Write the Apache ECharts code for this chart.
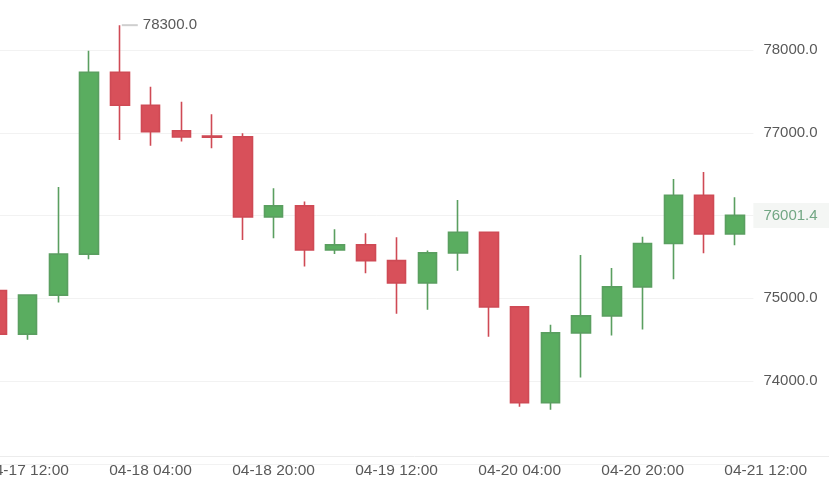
<!DOCTYPE html>
<html>
<head>
<meta charset="utf-8">
<script src="https://cdn.jsdelivr.net/npm/echarts@6/dist/echarts.min.js"></script>
<style>
html,body{margin:0;padding:0;background:#ffffff;}
#chart{width:829px;height:481px;}
</style>
</head>
<body>
<div id="chart"></div>
<script>
// 4-hour candles
const times = [
  '04-17 08:00','04-17 12:00','04-17 16:00','04-17 20:00',
  '04-18 00:00','04-18 04:00','04-18 08:00','04-18 12:00','04-18 16:00','04-18 20:00',
  '04-19 00:00','04-19 04:00','04-19 08:00','04-19 12:00','04-19 16:00','04-19 20:00',
  '04-20 00:00','04-20 04:00','04-20 08:00','04-20 12:00','04-20 16:00','04-20 20:00',
  '04-21 00:00','04-21 04:00','04-21 08:00'
];
const axisTimes = times.concat(['04-21 12:00','04-21 16:00','04-21 20:00']);
const openVals  = [75093,74566,75038,75533,77731,77332,77025,76960,76950,75983,76116,75585,75645,75455,75186,75548,75798,74896,73737,74582,74787,75138,75661,76245,75778];
const closeVals = [74566,75038,75533,77731,77332,77013,76949,76945,75983,76116,75585,75645,75455,75186,75548,75798,74896,73737,74582,74787,75138,75661,76245,75778,76001.4];
const lowVals   = [74480,74498,74948,75472,76913,76844,76893,76813,75705,75726,75383,75536,75303,74812,74860,75331,74534,73688,73652,74042,74550,74622,75231,75545,75641];
const highVals  = [75250,75045,76345,77992,78300,77557,77376,77223,76994,76330,76168,75835,75786,75738,75576,76188,75802,74900,74679,75524,75367,75742,76442,76527,76221];
const yMin = 73000, yMax = 79000, yStep = 1000;

const candleData = times.map((t, i) => [i, openVals[i], closeVals[i], lowVals[i], highVals[i]]);
const maxHigh = Math.max.apply(null, highVals);
const maxIdx = highVals.indexOf(maxHigh);
const lastClose = closeVals[closeVals.length - 1];

const FONT = 'Liberation Sans, Arial, sans-serif';
const TXT = '#595959';
const UP = '#5aad60', DOWN = '#d8505a';

const chart = echarts.init(document.getElementById('chart'), null, {renderer: 'canvas'});
chart.setOption({
  animation: false,
  backgroundColor: '#ffffff',
  grid: [
    {left: -21.7, right: 75.6, top: -32.75, bottom: 17.25, outerBoundsMode: 'none', containLabel: false},
    {left: -18.64, right: -13.6, top: 0, bottom: 25, outerBoundsMode: 'none', containLabel: false},
    {left: -21.7, right: 75.6, top: 0, bottom: 25, outerBoundsMode: 'none', containLabel: false}
  ],
  xAxis: [
    {gridIndex: 0, type: 'value', min: -0.6, max: 24.6, show: false},
    {gridIndex: 1, type: 'category', data: axisTimes, boundaryGap: true,
      axisLine: {show: true, lineStyle: {color: '#ececec', width: 1}},
      axisTick: {show: false},
      splitLine: {show: false},
      axisLabel: {interval: (idx) => idx % 4 === 1, color: TXT, fontSize: 15.5, fontFamily: FONT, margin: 7, hideOverlap: false}
    },
    {gridIndex: 2, type: 'value', min: 0, max: 1, show: false}
  ],
  yAxis: [
    {gridIndex: 0, type: 'value', position: 'right', min: yMin, max: yMax, interval: yStep,
      axisLine: {show: false}, axisTick: {show: false},
      splitLine: {show: true, lineStyle: {color: '#f2f2f2', width: 1}},
      axisLabel: {showMinLabel: false, showMaxLabel: false, color: TXT, fontSize: 15, fontFamily: FONT, margin: 10,
        formatter: (v) => v.toFixed(1)}
    },
    {gridIndex: 1, type: 'value', show: false},
    {gridIndex: 2, type: 'value', position: 'right', min: 0, max: 1,
      axisLine: {show: true, lineStyle: {color: '#ececec', width: 1}},
      axisTick: {show: false}, axisLabel: {show: false}, splitLine: {show: false}
    }
  ],
  series: [{
    type: 'candlestick',
    xAxisIndex: 0, yAxisIndex: 0,
    data: candleData,
    barWidth: 19,
    itemStyle: {color: UP, color0: DOWN, borderColor: '#5a9f60', borderColor0: '#cf4a55', borderWidth: 1.6},
    markPoint: {
      symbol: 'rect',
      symbolSize: [16, 2],
      symbolOffset: [10, 0],
      itemStyle: {color: '#cfcfcf'},
      label: {show: true, position: 'right', distance: 5, color: TXT, fontSize: 15, fontFamily: FONT,
        formatter: () => maxHigh.toFixed(1)},
      data: [{coord: [maxIdx, maxHigh], value: maxHigh}]
    },
    markLine: {
      silent: true,
      symbol: ['none', 'none'],
      lineStyle: {color: 'rgba(0,0,0,0)', width: 0, type: 'solid'},
      label: {show: true, position: 'end', distance: 0, color: '#72a784', fontSize: 15, fontFamily: FONT,
        backgroundColor: '#f4f6f4', padding: [5, 24, 5, 10], opacity: 1,
        formatter: () => lastClose.toFixed(1)},
      data: [{yAxis: lastClose}]
    }
  }]
});
</script>
</body>
</html>
